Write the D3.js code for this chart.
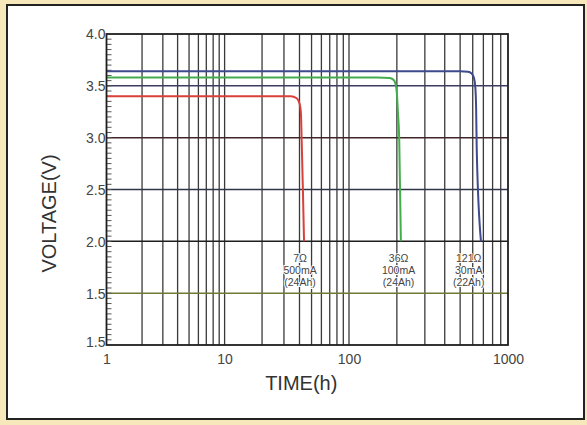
<!DOCTYPE html>
<html>
<head>
<meta charset="utf-8">
<script src="https://cdn.jsdelivr.net/npm/d3@7"></script>
<style>
  body { margin: 0; background: #f6e8bb; }
  svg { display: block; font-family: "Liberation Sans", Arial, sans-serif; }
</style>
</head>
<body>
<svg id="chart"></svg>
<script>
// curves: time (h) vs voltage (V)
const redHours = [1, 30, 34, 38, 40, 41, 41.8, 42.6, 43.5];
const redVolts = [3.40, 3.40, 3.40, 3.38, 3.33, 3.25, 2.9, 2.5, 2.0];

const greenHours = [1, 150, 180, 190, 196, 200, 203, 207, 212];
const greenVolts = [3.58, 3.58, 3.575, 3.56, 3.52, 3.43, 3.25, 2.98, 2.0];

const blueHours = [1, 500, 560, 590, 610, 622, 630, 636, 676];
const blueVolts = [3.64, 3.64, 3.635, 3.62, 3.58, 3.50, 3.30, 2.88, 2.0];

const curveColors = ["#d8403a", "#43ad4c", "#3d4a8c"];

// load labels
const loadHours = [40.4, 205, 566];
const loadLines = [
  ["7\u03a9", "500mA", "(24Ah)"],
  ["36\u03a9", "100mA", "(24Ah)"],
  ["121\u03a9", "30mA", "(22Ah)"]
];

// axis ticks
const xTickValues = [1, 10, 100, 1000];
const xTickLabels = ["1", "10", "100", "1000"];
const yTickValues = [4.0, 3.5, 3.0, 2.5, 2.0, 1.5, 1.0];
const yTickLabels = ["4.0", "3.5", "3.0", "2.5", "2.0", "1.5", "1.5"];
const yGridColors = ["#222", "#3b3d63", "#3f2727", "#30364a", "#1e1e1e", "#6e7b35", "#222"];

let width = 587;
let height = 425;
let padLeft = 106.5, padRight = 508, padTop = 34, padBottom = 345;

let svg = d3.select('#chart')
  .attr('width', width)
  .attr('height', height);

// panel
svg.append('rect')
  .attr('x', 0).attr('y', 0).attr('width', width).attr('height', height)
  .attr('fill', '#f6e8bb');
svg.append('rect')
  .attr('x', 7).attr('y', 5).attr('width', 577).attr('height', 414)
  .attr('fill', '#fff')
  .attr('stroke', '#222')
  .attr('stroke-width', 2);

// the printed decades are not evenly spaced, so the log scale is piecewise
let xScale = d3.scaleLog()
  .domain([1, 10, 100, 1000])
  .range([padLeft, 224.6, 349, padRight]);

let yScale = d3.scaleLinear()
  .domain([1, 4])
  .range([padBottom, padTop]);

// vertical grid
let xGrid = xScale.ticks().filter(d => d > 1 && d < 1000);
svg.append('g')
  .selectAll('line')
  .data(xGrid)
  .enter()
  .append('line')
  .attr('x1', d => xScale(d)).attr('x2', d => xScale(d))
  .attr('y1', padTop).attr('y2', padBottom)
  .attr('stroke', '#3a3a3a')
  .attr('stroke-width', 1.3);

// horizontal grid
svg.append('g')
  .selectAll('line')
  .data(yTickValues.slice(1, -1))
  .enter()
  .append('line')
  .attr('x1', padLeft).attr('x2', padRight)
  .attr('y1', d => yScale(d)).attr('y2', d => yScale(d))
  .attr('stroke', (d, i) => yGridColors[i + 1])
  .attr('stroke-width', 1.5);

// minor ticks on the voltage axis
let minor = d3.range(1.05, 4.0, 0.05);
svg.append('g')
  .selectAll('line')
  .data(minor)
  .enter()
  .append('line')
  .attr('x1', padLeft).attr('x2', padLeft + 5)
  .attr('y1', d => yScale(d)).attr('y2', d => yScale(d))
  .attr('stroke', '#555')
  .attr('stroke-width', 1);

// curves
let line = d3.line()
  .x(d => xScale(d[0]))
  .y(d => yScale(d[1]))
  .curve(d3.curveMonotoneX);

let series = [
  d3.zip(redHours, redVolts),
  d3.zip(greenHours, greenVolts),
  d3.zip(blueHours, blueVolts)
];

svg.append('g')
  .selectAll('path')
  .data(series)
  .enter()
  .append('path')
  .attr('d', line)
  .attr('fill', 'none')
  .attr('stroke', (d, i) => curveColors[i])
  .attr('stroke-width', 2);

// frame
svg.append('rect')
  .attr('x', padLeft).attr('y', padTop)
  .attr('width', padRight - padLeft).attr('height', padBottom - padTop)
  .attr('fill', 'none')
  .attr('stroke', '#1e1e1e')
  .attr('stroke-width', 1.8);

// axes (labels only)
let xAxis = d3.axisBottom(xScale)
  .tickValues(xTickValues)
  .tickFormat((d, i) => xTickLabels[i])
  .tickSize(0)
  .tickPadding(9);
let gx = svg.append('g')
  .attr('transform', 'translate(0,' + padBottom + ')')
  .call(xAxis);
gx.select('.domain').remove();
gx.selectAll('text')
  .attr('font-size', 14)
  .attr('font-family', '"Liberation Sans", Arial, sans-serif')
  .attr('fill', '#444');

let yAxis = d3.axisLeft(yScale)
  .tickValues(yTickValues)
  .tickFormat((d, i) => yTickLabels[i])
  .tickSize(0)
  .tickPadding(1);
let gy = svg.append('g')
  .attr('transform', 'translate(' + padLeft + ',0)')
  .call(yAxis);
gy.select('.domain').remove();
gy.selectAll('text')
  .attr('font-size', 14)
  .attr('font-family', '"Liberation Sans", Arial, sans-serif')
  .attr('fill', '#444')
  .attr('dy', (d, i) => i === yTickValues.length - 1 ? '0.1em' : '0.35em');

// titles
svg.append('text')
  .attr('x', (padLeft + padRight) / 2 - 6)
  .attr('y', 390)
  .attr('text-anchor', 'middle')
  .attr('font-size', 20)
  .attr('fill', '#333')
  .text('TIME(h)');

svg.append('text')
  .attr('transform', 'translate(56,' + ((padTop + padBottom) / 2 + 24) + ') rotate(-90)')
  .attr('text-anchor', 'middle')
  .attr('font-size', 20)
  .attr('fill', '#333')
  .text('VOLTAGE(V)');

// load labels
let labels = svg.append('g')
  .selectAll('text')
  .data(loadLines)
  .enter()
  .append('text')
  .attr('text-anchor', 'middle')
  .attr('font-size', 10.5)
  .attr('fill', '#444')
  .attr('stroke', '#fff')
  .attr('stroke-width', 2)
  .attr('paint-order', 'stroke');

labels.selectAll('tspan')
  .data((d, i) => d.map(t => ({ t: t, h: loadHours[i] })))
  .enter()
  .append('tspan')
  .attr('x', d => xScale(d.h))
  .attr('y', (d, j) => yScale(1.8) + j * 12)
  .text(d => d.t);
</script>
</body>
</html>
